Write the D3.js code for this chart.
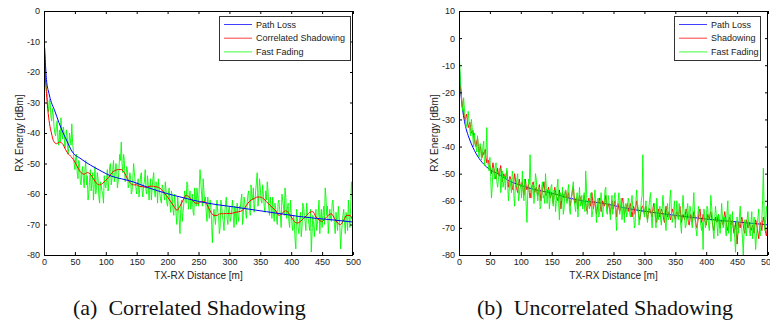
<!DOCTYPE html>
<html><head><meta charset="utf-8">
<script src="https://cdn.jsdelivr.net/npm/d3@7"></script>
<style>body{margin:0;background:#fff}svg{display:block}text{font-family:"Liberation Sans",Arial,sans-serif}</style>
</head><body><svg id="c" width="770" height="325"></svg>
<script>
// ---------- data ----------
const xTicks = [0,50,100,150,200,250,300,350,400,450,500];
const yTicksA = [0,-10,-20,-30,-40,-50,-60,-70,-80];
const yTicksB = [10,0,-10,-20,-30,-40,-50,-60,-70,-80];
const legendA = ["Path Loss","Correlated Shadowing","Fast Fading"];
const legendB = ["Path Loss","Shadowing","Fast Fading"];
const captions = ["(a)  Correlated Shadowing","(b)  Uncorrelated Shadowing"];
const sampleStep = 2.5; // metres between samples in the "even" arrays; "mid" arrays sit halfway between

// (a) path loss
const plDistA = [1,2,4,8,12,17,24,31,38,44,60,75,90,110,125,144,170,198,225,252,280,306,333,360,387,414,441,468,500];
const plA = [-12,-16,-22.5,-27,-30,-32.5,-36.5,-40,-43,-45.6,-48.5,-50.5,-52.2,-54.2,-55,-56,-58,-59.8,-61.2,-62.5,-63.5,-64.2,-65,-65.8,-66.6,-67.4,-68,-68.5,-69.2];
// (a) correlated shadowing
const shDistA = [1,2,4,6,9,12,15,20,25,30,35,40,45,50,55,60,65,70,75,80,85,90,95,100,105,110,115,120,125,130,135,140,145,150,155,160,165,170,175,180,185,190,195,200,205,210,215,220,225,230,235,240,245,250,255,260,265,270,275,280,285,290,295,300,305,310,315,320,325,330,335,340,345,350,355,360,365,370,375,380,385,390,395,400,405,410,415,420,425,430,435,440,445,450,455,460,465,470,475,480,485,490,495,500];
const shA = [-16,-21,-27,-32,-37,-40,-42.4,-43.5,-43,-43.5,-45.5,-47,-48,-49.5,-51.5,-53,-53.5,-53,-53.5,-55,-56.5,-57,-56.5,-55.5,-54.5,-53,-52.3,-52,-52,-53,-55,-56.5,-57,-57,-57.5,-57.6,-57.8,-57.5,-57.4,-57.6,-57.8,-58.5,-59.8,-61,-62.5,-64,-65.3,-64,-62,-60.4,-61,-62,-63,-63,-62.5,-62.5,-64,-66,-67,-67,-66.5,-66.5,-66.4,-66.4,-66.3,-66,-65.8,-65.5,-64.5,-63,-62,-61.5,-61,-61,-61.5,-62.5,-63.6,-64.5,-65.5,-67,-66.5,-65.5,-66,-67.5,-69,-69.5,-69,-68,-67,-66,-65.8,-67.5,-68.5,-69,-68,-67,-66.5,-68,-69.5,-70,-68.5,-67,-67,-69];
// (a) fast fading at 0, 2.5, 5 ... 500 m
const ffA = [
-8,-22,-27,-33,-30,-36,-34,-40,-38,-42,
-39,-35,-42,-40,-44,-41,-45,-42,-37,-46,
-52,-47,-55,-50,-57,-51,-58,-49,-54,-60,
-52,-56,-62,-51,-58,-55,-63,-57,-60,-54,
-58,-52,-56,-50,-55,-49,-54,-51,-56,-47,
-43,-53,-49,-55,-52,-57,-54,-59,-50,-56,
-60,-55,-58,-53,-61,-56,-59,-54,-62,-55,
-58,-53,-61,-57,-55,-60,-63,-58,-62,-59,
-64,-58,-66,-61,-67,-63,-70,-64,-73,-62,
-66,-59,-63,-57,-62,-65,-60,-67,-61,-58,
-64,-52,-60,-55,-63,-66,-61,-68,-64,-76,
-65,-70,-62,-67,-71,-64,-69,-66,-61,-70,
-64,-68,-62,-71,-66,-63,-69,-65,-60,-67,
-63,-68,-60,-64,-57,-62,-66,-59,-53,-61,
-58,-63,-60,-66,-62,-59,-67,-64,-61,-69,
-65,-70,-62,-67,-60,-64,-58,-68,-63,-71,
-66,-72,-69,-78,-68,-73,-66,-71,-64,-69,
-63,-68,-72,-79,-67,-74,-65,-70,-62,-68,
-71,-64,-58,-67,-73,-65,-69,-62,-70,-66,
-72,-67,-78,-70,-65,-73,-68,-62,-71,-56,
-66];
// (a) fast fading at 1.25, 3.75 ... 498.75 m
const ffAmid = [
-14,-25,-31,-29,-35,-32,-38,-41,-36,-44,
-43,-40,-38,-45,-39,-47,-40,-44,-43,-50,
-48,-53,-49,-56,-53,-55,-52,-57,-62,-55,
-59,-53,-57,-60,-53,-61,-56,-59,-63,-57,
-55,-59,-51,-57,-52,-56,-50,-58,-52,-49,
-50,-47,-56,-51,-58,-53,-60,-55,-53,-58,
-56,-61,-54,-59,-57,-52,-60,-57,-58,-62,
-55,-59,-56,-63,-58,-62,-57,-60,-56,-63,
-60,-63,-59,-65,-60,-67,-61,-68,-65,-69,
-63,-61,-56,-65,-59,-63,-66,-58,-64,-61,
-58,-56,-64,-59,-61,-69,-65,-62,-70,-68,
-68,-64,-66,-73,-62,-67,-72,-63,-68,-65,
-69,-65,-67,-64,-70,-67,-64,-62,-70,-61,
-66,-63,-59,-67,-61,-58,-63,-56,-64,-55,
-62,-57,-64,-59,-56,-65,-61,-68,-66,-63,
-68,-63,-65,-71,-62,-67,-61,-65,-69,-62,
-70,-67,-75,-65,-71,-68,-74,-63,-67,-72,
-66,-70,-65,-73,-70,-69,-72,-66,-73,-65,
-67,-70,-61,-64,-69,-68,-63,-66,-73,-69,
-64,-71,-73,-67,-69,-66,-72,-67,-64,-61];

// (b) path loss
const plDistB = [1,2,3,5,8,10,15,20,30,40,50,66,80,100,125,147,175,200,233,265,298,330,365,406,450,492,500];
const plB = [-12,-17,-20,-25,-29.5,-32,-36,-39,-43.5,-46.5,-48.5,-50.4,-52.5,-54.3,-56,-57,-58.8,-60,-60.9,-62.5,-63.8,-64.8,-65.8,-66.9,-67.8,-68.7,-68.9];
// (b) uncorrelated shadowing at 0, 2.5 ... 500 m
const shB = [
-17,-18,-24,-27,-30,-28,-33,-31,-35,-34,
-38,-40,-37,-42,-40,-44,-43,-41,-46,-45,
-47,-50,-46,-49,-52,-48,-51,-47,-53,-50,
-52,-49,-55,-51,-53,-56,-50,-54,-57,-52,
-55,-53,-58,-52,-56,-54,-59,-55,-53,-57,
-55,-58,-54,-60,-56,-53,-58,-57,-55,-59,
-57,-61,-55,-58,-60,-56,-63,-57,-59,-56,
-60,-57,-62,-58,-55,-61,-59,-63,-58,-60,
-62,-58,-61,-64,-59,-62,-57,-63,-60,-65,
-61,-59,-64,-60,-62,-58,-63,-61,-65,-60,
-63,-60,-66,-61,-64,-62,-59,-65,-63,-61,
-64,-61,-66,-62,-65,-60,-64,-67,-63,-62,
-65,-62,-67,-63,-64,-66,-61,-65,-68,-63,
-66,-63,-65,-68,-62,-66,-64,-67,-63,-65,
-67,-64,-66,-62,-68,-65,-67,-63,-66,-69,
-65,-68,-64,-67,-70,-66,-63,-68,-65,-67,
-69,-65,-67,-64,-68,-71,-66,-68,-65,-70,
-67,-69,-64,-68,-71,-66,-69,-67,-72,-68,
-76,-68,-70,-66,-69,-72,-67,-70,-68,-71,
-69,-72,-67,-70,-74,-68,-71,-66,-70,-73,
-68];
// (b) uncorrelated shadowing at 1.25, 3.75 ... 498.75 m
const shBmid = [
-17.5,-21,-26,-29,-29,-31,-32,-33,-35,-36,
-39,-38,-40,-41,-43,-42,-42,-44,-45,-47,
-49,-48,-48,-51,-50,-50,-49,-50,-51,-51,
-50,-53,-52,-52,-55,-53,-52,-56,-54,-54,
-54,-56,-55,-55,-55,-57,-57,-54,-55,-56,
-57,-56,-57,-58,-55,-56,-58,-56,-57,-58,
-59,-58,-57,-59,-58,-60,-59,-58,-58,-58,
-58,-60,-60,-56,-58,-60,-61,-60,-59,-61,
-60,-60,-63,-61,-60,-60,-60,-61,-63,-63,
-60,-62,-62,-61,-60,-61,-62,-63,-62,-62,
-61,-63,-63,-63,-63,-60,-62,-64,-62,-63,
-62,-64,-64,-63,-62,-62,-66,-65,-62,-64,
-63,-65,-65,-63,-65,-63,-63,-67,-65,-65,
-64,-64,-67,-65,-64,-65,-66,-65,-64,-66,
-65,-65,-64,-65,-66,-66,-65,-64,-68,-67,
-66,-66,-65,-69,-68,-64,-66,-67,-66,-68,
-67,-66,-65,-66,-70,-68,-67,-66,-68,-68,
-68,-66,-66,-70,-68,-67,-68,-70,-70,-72,
-72,-69,-68,-67,-71,-69,-68,-69,-70,-70,
-70,-69,-68,-72,-71,-69,-68,-68,-72,-70];
// (b) fast fading at 0, 2.5 ... 500 m
const ffB = [
-4,-16,-25,-22,-29,-32,-27,-34,-30,-37,
-35,-40,-36,-44,-39,-43,-38,-45,-33,-47,
-44,-59,-48,-52,-46,-55,-50,-57,-49,-53,
-56,-48,-60,-52,-57,-51,-62,-55,-50,-58,
-54,-49,-60,-55,-68,-52,-43,-59,-54,-57,
-52,-60,-55,-62,-53,-58,-50,-61,-56,-59,
-54,-62,-57,-60,-52,-67,-58,-55,-63,-56,
-61,-54,-65,-58,-53,-62,-59,-66,-55,-60,
-63,-57,-49,-65,-60,-58,-66,-62,-56,-68,
-59,-64,-57,-66,-61,-55,-65,-60,-67,-58,
-62,-57,-71,-60,-65,-59,-63,-68,-61,-64,
-60,-66,-58,-64,-69,-56,-63,-67,-60,-43,
-66,-60,-68,-62,-57,-70,-63,-66,-59,-67,
-62,-69,-58,-65,-71,-61,-66,-56,-68,-63,
-70,-60,-67,-64,-72,-58,-66,-69,-61,-67,
-64,-70,-57,-68,-73,-62,-66,-71,-78,-65,
-68,-63,-71,-58,-66,-74,-62,-69,-65,-72,
-61,-70,-66,-73,-60,-68,-75,-64,-69,-79,
-66,-72,-62,-70,-80,-67,-73,-64,-71,-68,
-74,-66,-78,-70,-63,-73,-67,-48,-71,-62,
-69];
// (b) fast fading at 1.25, 3.75 ... 498.75 m
const ffBmid = [
-10,-21,-27,-26,-33,-30,-31,-36,-33,-40,
-38,-42,-41,-39,-45,-40,-47,-42,-46,-49,
-51,-55,-50,-47,-53,-52,-48,-54,-55,-51,
-51,-54,-56,-55,-49,-58,-54,-52,-60,-55,
-59,-56,-52,-62,-57,-54,-53,-55,-61,-50,
-57,-56,-63,-55,-59,-61,-55,-57,-63,-55,
-59,-56,-64,-55,-61,-57,-60,-65,-57,-60,
-56,-63,-60,-55,-60,-64,-57,-60,-62,-58,
-60,-64,-55,-61,-63,-57,-64,-59,-62,-60,
-66,-60,-63,-62,-56,-64,-58,-63,-62,-65,
-59,-66,-63,-57,-62,-67,-60,-62,-66,-59,
-65,-61,-63,-70,-60,-61,-69,-64,-58,-62,
-63,-65,-64,-59,-66,-64,-61,-70,-63,-64,
-67,-63,-62,-68,-64,-67,-59,-64,-66,-60,
-65,-66,-61,-69,-63,-63,-70,-64,-65,-62,
-68,-62,-65,-71,-66,-65,-69,-68,-63,-70,
-62,-69,-66,-62,-71,-67,-65,-73,-68,-67,
-66,-68,-71,-64,-72,-65,-69,-70,-74,-71,
-70,-66,-68,-74,-71,-70,-67,-69,-73,-64,
-70,-72,-73,-66,-70,-69,-60,-65,-67,-66];

// ---------- drawing ----------
const svg = d3.select("#c");
svg.append("rect").attr("width",770).attr("height",325).attr("fill","#fff");

// merge an "even" array and its "mid" array into [distance, value] points in order
const samples = (even, mid) => {
  const pts = [];
  even.forEach((v,i) => {
    pts.push([i*sampleStep, v]);
    if (i < mid.length) pts.push([i*sampleStep + sampleStep/2, mid[i]]);
  });
  return pts;
};
const zip = (ds, vs) => ds.map((d,i)=>[d, vs[i]]);

const panels = [
  {id:"a", left:44, right:353, top:11, bottom:255, yDom:[-80,0], yTicks:yTicksA, legend:legendA,
   legBox:[219,16,131,44], ylabX:18, caption:captions[0], capX:73,
   layers:[
     {pts:samples(ffA, ffAmid), color:"#00ff00", curve:d3.curveLinear, w:0.9},
     {pts:zip(shDistA, shA), color:"#ff0000", curve:d3.curveMonotoneX, w:1},
     {pts:zip(plDistA, plA), color:"#0000ff", curve:d3.curveMonotoneX, w:1}
   ]},
  {id:"b", left:459, right:768, top:11, bottom:255, yDom:[-80,10], yTicks:yTicksB, legend:legendB,
   legBox:[674,16,86,44], ylabX:433, caption:captions[1], capX:477,
   layers:[
     {pts:zip(plDistB, plB), color:"#0000ff", curve:d3.curveMonotoneX, w:1},
     {pts:samples(shB, shBmid), color:"#ff0000", curve:d3.curveLinear, w:0.9},
     {pts:samples(ffB, ffBmid), color:"#00ff00", curve:d3.curveLinear, w:0.9}
   ]}
];
const legColors = ["#0000ff","#ff0000","#00ff00"];

panels.forEach(p => {
  const x = d3.scaleLinear().domain([0,500]).range([p.left,p.right]);
  const y = d3.scaleLinear().domain(p.yDom).range([p.bottom,p.top]);
  const g = svg.append("g");

  g.append("clipPath").attr("id","clip"+p.id).append("rect")
    .attr("x",p.left).attr("y",p.top).attr("width",p.right-p.left).attr("height",p.bottom-p.top);

  const lg = g.append("g").attr("clip-path","url(#clip"+p.id+")");
  p.layers.forEach(L => {
    lg.append("path").datum(L.pts)
      .attr("d", d3.line().x(d=>x(d[0])).y(d=>y(d[1])).curve(L.curve))
      .attr("fill","none").attr("stroke",L.color).attr("stroke-width",L.w)
      .attr("stroke-linejoin","round");
  });

  const fmt = d => String(d);
  const axB = g.append("g").attr("transform",`translate(0,${p.bottom})`)
    .call(d3.axisBottom(x).tickValues(xTicks).tickSize(-3).tickPadding(4).tickFormat(fmt));
  const axT = g.append("g").attr("transform",`translate(0,${p.top})`)
    .call(d3.axisTop(x).tickValues(xTicks).tickSize(-3).tickFormat(""));
  const axL = g.append("g").attr("transform",`translate(${p.left},0)`)
    .call(d3.axisLeft(y).tickValues(p.yTicks).tickSize(-3).tickPadding(4).tickFormat(fmt));
  const axR = g.append("g").attr("transform",`translate(${p.right},0)`)
    .call(d3.axisRight(y).tickValues(p.yTicks).tickSize(-3).tickFormat(""));
  [axB,axT,axL,axR].forEach(a => {
    a.select(".domain").remove();
    a.selectAll("line").attr("stroke","#000");
    a.selectAll("text").attr("fill","#222").style("font-size","9px").style("font-family","'Liberation Sans',Arial,sans-serif");
  });

  g.append("rect").attr("x",p.left+0.5).attr("y",p.top+0.5)
    .attr("width",p.right-p.left-1).attr("height",p.bottom-p.top)
    .attr("fill","none").attr("stroke","#000");

  // axis labels
  g.append("text").attr("x",(p.left+p.right)/2).attr("y",279)
    .attr("text-anchor","middle").style("font-size","10px").attr("fill","#222")
    .text("TX-RX Distance [m]");
  g.append("text").attr("transform",`translate(${p.ylabX+5},${(p.top+p.bottom)/2}) rotate(-90)`)
    .attr("text-anchor","middle").style("font-size","10px").attr("fill","#222")
    .text("RX Energy [dBm]");

  // legend
  const [bx,by,bw,bh] = p.legBox;
  g.append("rect").attr("x",bx+0.5).attr("y",by+0.5).attr("width",bw).attr("height",bh)
    .attr("fill","#fff").attr("stroke","#333");
  p.legend.forEach((t,i) => {
    const ry = by + 8.5 + i*13.7;
    g.append("line").attr("x1",bx+5).attr("x2",bx+33).attr("y1",ry).attr("y2",ry)
      .attr("stroke",legColors[i]).attr("stroke-width",1).attr("opacity",0.75);
    g.append("text").attr("x",bx+37).attr("y",ry+3.2).style("font-size","9px").attr("fill","#222").text(t);
  });

  // caption
  svg.append("text").attr("x",p.capX).attr("y",315).attr("xml:space","preserve")
    .style("font-family","'Liberation Serif','Times New Roman',serif").style("font-size","22px")
    .style("white-space","pre").attr("fill","#111").text(p.caption);
});
</script></body></html>
